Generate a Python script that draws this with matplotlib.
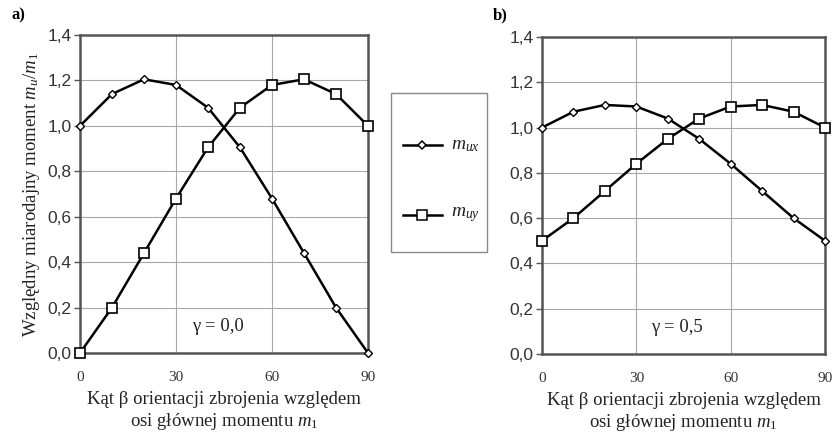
import numpy as np
import matplotlib.pyplot as plt
from matplotlib.ticker import FuncFormatter
from matplotlib.lines import Line2D
from matplotlib.patches import Rectangle

# katy beta [deg]
beta = [0, 10, 20, 30, 40, 50, 60, 70, 80, 90]

# gamma = 0.0
mux_a = [1.0, 1.14, 1.205, 1.18, 1.08, 0.905, 0.68, 0.44, 0.20, 0.0]
muy_a = [0.0, 0.20, 0.44, 0.68, 0.905, 1.08, 1.18, 1.205, 1.14, 1.0]

# gamma = 0.5
mux_b = [1.0, 1.07, 1.10, 1.093, 1.04, 0.95, 0.84, 0.72, 0.60, 0.50]
muy_b = [0.50, 0.60, 0.72, 0.84, 0.95, 1.04, 1.093, 1.10, 1.07, 1.0]

xticks = [0, 30, 60, 90]
yticks = [0.0, 0.2, 0.4, 0.6, 0.8, 1.0, 1.2, 1.4]
legendLabels = ["$m_{ux}$", "$m_{uy}$"]

serif = 'Liberation Serif'
sans = 'Liberation Sans'

plt.rcParams['mathtext.fontset'] = 'custom'
plt.rcParams['mathtext.rm'] = serif
plt.rcParams['mathtext.it'] = serif + ':italic'

W, H = 834, 432
fig = plt.figure(figsize=(W/100, H/100), dpi=100)

axA = fig.add_axes([80/W, 1-353/H, 288/W, 318/H])
axB = fig.add_axes([542/W, 1-354/H, 283/W, 317/H])

txtSize = 13.5


def drawPanel(ax, mux, muy, gammaText):
	ax.plot(beta, mux, color='black', lw=1.8, marker='D', ms=4.5,
		mfc='white', mec='black', mew=1.0, zorder=3, clip_on=False)
	ax.plot(beta, muy, color='black', lw=1.8, marker='s', ms=7,
		mfc='white', mec='black', mew=1.2, zorder=3, clip_on=False)
	ax.set_xlim(0, 90)
	ax.set_ylim(0, 1.4)
	ax.set_xticks(xticks)
	ax.set_yticks(yticks)
	ax.yaxis.set_major_formatter(FuncFormatter(lambda v, p: f"{v:.1f}".replace('.', ',')))
	ax.grid(True, color='#a8a8a8', lw=0.8)
	ax.set_axisbelow(True)
	for s in ax.spines.values():
		s.set_color('#555555')
		s.set_linewidth(1.8)
	ax.tick_params(axis='y', length=4, width=1, color='#555555', labelsize=12.5,
		labelcolor='#333333', pad=2)
	ax.tick_params(axis='x', length=0, labelsize=11, pad=13, labelcolor='#333333')
	for t in ax.get_yticklabels():
		t.set_fontfamily(sans)
	for t in ax.get_xticklabels():
		t.set_fontfamily(serif)
	ax.text(43, 0.08, gammaText, ha='center', va='bottom', fontsize=txtSize, family=serif,
		color='#222222')
	ax.set_xlabel("Kąt β orientacji zbrojenia względem\nosi głównej momentu $m_1$",
		fontsize=txtSize, family=serif, labelpad=5, linespacing=1.2, color='#222222')


drawPanel(axA, mux_a, muy_a, "γ = 0,0")
drawPanel(axB, mux_b, muy_b, "γ = 0,5")

axA.set_ylabel("Względny miarodajny moment $m_u/m_1$", fontsize=txtSize, family=serif,
	labelpad=4, color='#222222')

fig.text(12/W, 1-15/H, "a)", fontsize=12, fontweight='bold', family=serif, va='center')
fig.text(493/W, 1-15/H, "b)", fontsize=12, fontweight='bold', family=serif, va='center')

# legenda rysowana recznie
fig.add_artist(Rectangle((391/W, 1-252/H), 96/W, 159/H, transform=fig.transFigure,
	fill=False, edgecolor='#888888', lw=1.0))
legMarkers = [('D', 4.5), ('s', 7)]
legY = [145, 215]
for (mk, ms), yy, lab in zip(legMarkers, legY, legendLabels):
	fig.add_artist(Line2D([403/W, 442/W], [1-yy/H, 1-yy/H], transform=fig.transFigure,
		color='black', lw=1.8))
	fig.add_artist(Line2D([422.5/W], [1-yy/H], transform=fig.transFigure, marker=mk, ms=ms,
		mfc='white', mec='black', mew=1.1, ls='none'))
	fig.text(451/W, 1-yy/H, lab, fontsize=14, family=serif, va='center', color='#222222')

plt.savefig("out.png", dpi=100)
